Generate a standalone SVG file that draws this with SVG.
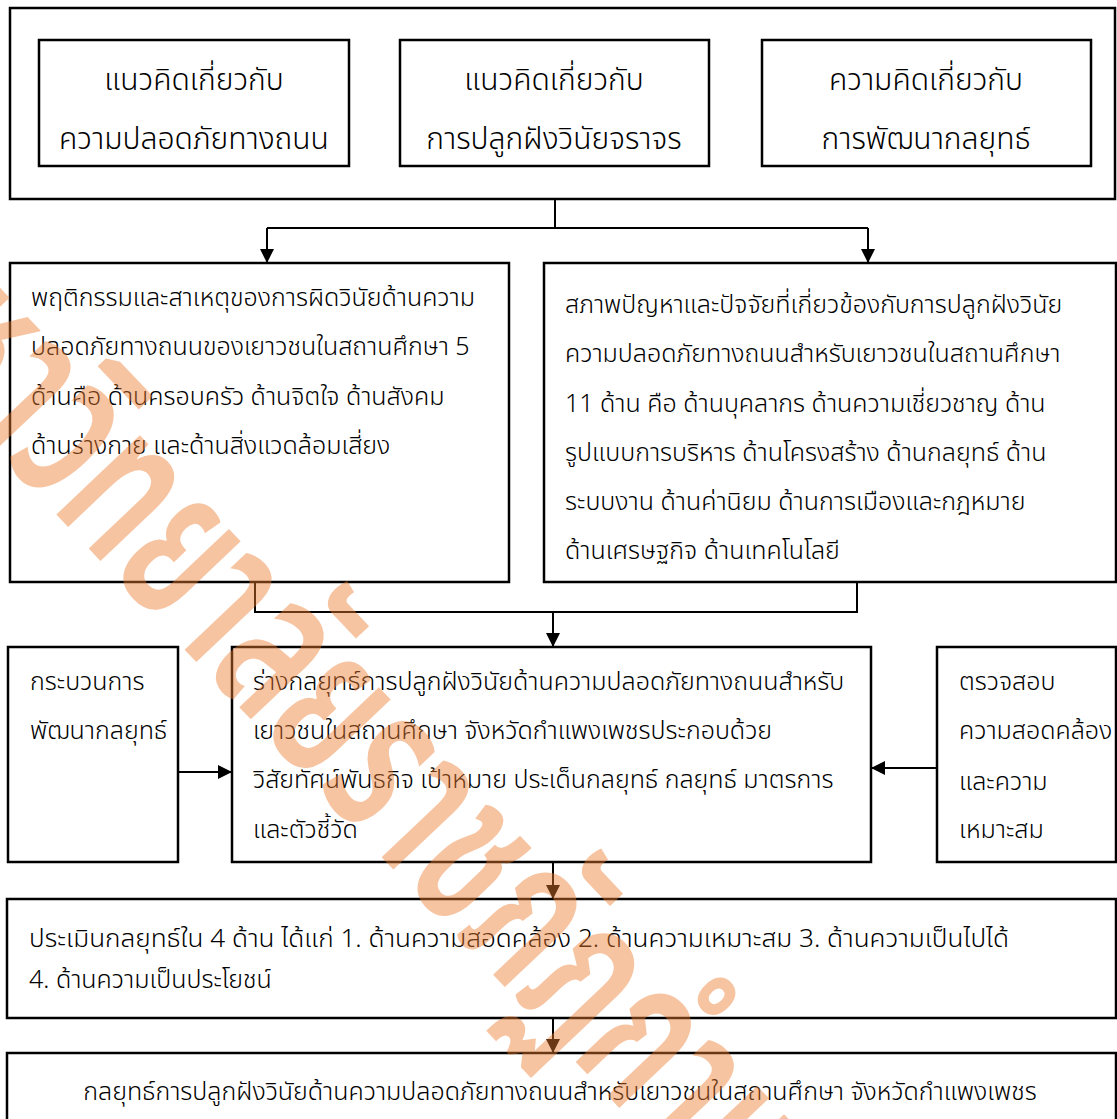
<svg xmlns="http://www.w3.org/2000/svg" width="1117" height="1119" viewBox="0 0 1117 1119">
<style>
.box{fill:#fff;stroke:#000;stroke-width:2.5}
.t{font-family:"Noto Sans Thai","Noto Sans Thai UI","Leelawadee UI",Tahoma,"DejaVu Sans",sans-serif;font-size:25px;font-weight:300;fill:#000}
.tb{font-size:30px}
.c{text-anchor:middle}
.ln{fill:none;stroke:#000;stroke-width:2}
.wm{font-family:"Noto Sans Thai","Noto Sans Thai UI","DejaVu Sans",sans-serif;font-size:210px;font-weight:600;fill:#ED7D31;fill-opacity:0.45}
</style>
<defs>
<marker id="a" viewBox="0 0 14 14" refX="14" refY="7" markerWidth="14" markerHeight="14" markerUnits="userSpaceOnUse" orient="auto">
<path d="M0,0 L14,7 L0,14 z" fill="#000"/>
</marker>
</defs>
<rect width="1117" height="1119" fill="#fff"/>
<g id="outer-top"><rect class="box" x="10" y="8" width="1105" height="191"/></g>
<g id="n1"><rect class="box" x="39" y="40" width="310" height="126"/>
<text class="t tb c" x="194" y="90">แนวคิดเกี่ยวกับ</text>
<text class="t tb c" x="194" y="149">ความปลอดภัยทางถนน</text></g>
<g id="n2"><rect class="box" x="400" y="40" width="309" height="126"/>
<text class="t tb c" x="554" y="90">แนวคิดเกี่ยวกับ</text>
<text class="t tb c" x="554" y="149">การปลูกฝังวินัยจราจร</text></g>
<g id="n3"><rect class="box" x="762" y="40" width="329" height="126"/>
<text class="t tb c" x="926" y="90">ความคิดเกี่ยวกับ</text>
<text class="t tb c" x="926" y="149">การพัฒนากลยุทธ์</text></g>
<g id="n4"><rect class="box" x="10" y="263" width="499" height="319"/>
<text class="t" x="31" y="306">พฤติกรรมและสาเหตุของการผิดวินัยด้านความ</text>
<text class="t" x="31" y="355">ปลอดภัยทางถนนของเยาวชนในสถานศึกษา 5</text>
<text class="t" x="31" y="405">ด้านคือ ด้านครอบครัว ด้านจิตใจ ด้านสังคม</text>
<text class="t" x="31" y="454">ด้านร่างกาย และด้านสิ่งแวดล้อมเสี่ยง</text></g>
<g id="n5"><rect class="box" x="544" y="263" width="572" height="319"/>
<text class="t" x="565" y="313">สภาพปัญหาและปัจจัยที่เกี่ยวข้องกับการปลูกฝังวินัย</text>
<text class="t" x="565" y="362">ความปลอดภัยทางถนนสำหรับเยาวชนในสถานศึกษา</text>
<text class="t" x="565" y="412">11 ด้าน คือ ด้านบุคลากร ด้านความเชี่ยวชาญ ด้าน</text>
<text class="t" x="565" y="461">รูปแบบการบริหาร ด้านโครงสร้าง ด้านกลยุทธ์ ด้าน</text>
<text class="t" x="565" y="510">ระบบงาน ด้านค่านิยม ด้านการเมืองและกฎหมาย</text>
<text class="t" x="565" y="559">ด้านเศรษฐกิจ ด้านเทคโนโลยี</text></g>
<g id="n6"><rect class="box" x="8" y="647" width="170" height="215"/>
<text class="t" x="30" y="690">กระบวนการ</text>
<text class="t" x="30" y="739">พัฒนากลยุทธ์</text></g>
<g id="n7"><rect class="box" x="232" y="647" width="639" height="215"/>
<text class="t" x="253" y="690">ร่างกลยุทธ์การปลูกฝังวินัยด้านความปลอดภัยทางถนนสำหรับ</text>
<text class="t" x="253" y="739">เยาวชนในสถานศึกษา จังหวัดกำแพงเพชรประกอบด้วย</text>
<text class="t" x="253" y="788">วิสัยทัศน์พันธกิจ เป้าหมาย ประเด็นกลยุทธ์ กลยุทธ์ มาตรการ</text>
<text class="t" x="253" y="838">และตัวชี้วัด</text></g>
<g id="n8"><rect class="box" x="937" y="647" width="179" height="215"/>
<text class="t" x="959" y="690">ตรวจสอบ</text>
<text class="t" x="959" y="739">ความสอดคล้อง</text>
<text class="t" x="959" y="790">และความ</text>
<text class="t" x="959" y="838">เหมาะสม</text></g>
<g id="n9"><rect class="box" x="7" y="899" width="1109" height="119"/>
<text class="t" x="29" y="947" textLength="980" lengthAdjust="spacingAndGlyphs">ประเมินกลยุทธ์ใน 4 ด้าน ได้แก่ 1. ด้านความสอดคล้อง 2. ด้านความเหมาะสม 3. ด้านความเป็นไปได้</text>
<text class="t" x="29" y="988">4. ด้านความเป็นประโยชน์</text></g>
<g id="n10"><rect class="box" x="7" y="1053" width="1109" height="80"/>
<text class="t c" x="560" y="1100">กลยุทธ์การปลูกฝังวินัยด้านความปลอดภัยทางถนนสำหรับเยาวชนในสถานศึกษา จังหวัดกำแพงเพชร</text></g>
<g id="connectors">
<polyline class="ln" points="555,199 555,228"/>
<polyline class="ln" points="267,228 868,228"/>
<line class="ln" x1="267" y1="228" x2="267" y2="263" marker-end="url(#a)"/>
<line class="ln" x1="868" y1="228" x2="868" y2="263" marker-end="url(#a)"/>
<polyline class="ln" points="255,582 255,612 857,612 857,582"/>
<line class="ln" x1="553" y1="612" x2="553" y2="647" marker-end="url(#a)"/>
<line class="ln" x1="178" y1="772" x2="232" y2="772" marker-end="url(#a)"/>
<line class="ln" x1="937" y1="768" x2="871" y2="768" marker-end="url(#a)"/>
<line class="ln" x1="553" y1="862" x2="553" y2="899" marker-end="url(#a)"/>
<line class="ln" x1="553" y1="1018" x2="553" y2="1053" marker-end="url(#a)"/>
</g>
<g id="watermark">
<text class="wm" transform="translate(-152,295) rotate(46.5) scale(0.64,1)">มหาวิทยาลัยราชภัฏกำแพงเพชร</text>
</g>
</svg>
